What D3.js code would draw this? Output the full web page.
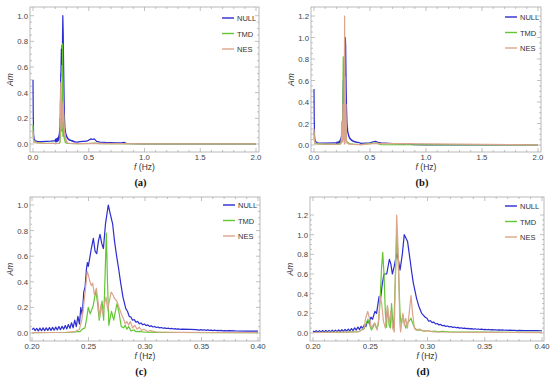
<!DOCTYPE html>
<html>
<head>
<meta charset="utf-8">
<script src="https://cdn.jsdelivr.net/npm/d3@7"></script>
<style>
  body { margin: 0; background: #fff; }
  svg { display: block; font-family: "Liberation Sans", Arial, sans-serif; }
</style>
</head>
<body>
<svg id="chart" width="550" height="386"></svg>
<script>
// series names
const seriesNames = ["NULL", "TMD", "NES"];

// ---- case 1 : panels (a) and (c) ----
// zoom range 0.20 - 0.40 Hz, [f, Am]
const null1Zoom = [[.2000,.026],[.2014,.038],[.2028,.018],[.2042,.036],[.2056,.016],[.2070,.038],[.2084,.018],[.2098,.040],[.2112,.018],[.2126,.040],[.2140,.020],[.2154,.042],[.2168,.020],[.2182,.044],[.2196,.022],[.2210,.046],[.2224,.024],[.2238,.050],[.2252,.026],[.2266,.052],[.2280,.030],[.2294,.058],[.2308,.032],[.2322,.066],[.2336,.036],[.2350,.080],[.2364,.040],[.2378,.100],[.2392,.050],[.2406,.130],[.2420,.070],[.2432,.200],[.2445,.140],[.2458,.320],[.2470,.360],[.2482,.500],[.2490,.550],[.2498,.520],[.2510,.580],[.2525,.660],[.2543,.740],[.2558,.640],[.2573,.620],[.2588,.720],[.2602,.770],[.2617,.700],[.2632,.660],[.2650,.850],[.2675,1.00],[.2695,.920],[.2714,.850],[.2730,.720],[.2749,.600],[.2767,.500],[.2785,.390],[.2805,.280],[.2830,.190],[.2845,.170],[.2860,.130],[.2875,.125],[.2890,.100],[.2905,.105],[.2920,.085],[.2935,.090],[.2950,.072],[.2965,.078],[.2980,.064],[.2995,.070],[.3010,.058],[.3025,.063],[.3040,.052],[.3055,.056],[.3070,.047],[.3085,.051],[.3100,.043],[.3115,.047],[.3130,.040],[.3145,.043],[.3160,.037],[.3175,.040],[.3190,.035],[.3205,.038],[.3220,.033],[.3235,.036],[.3250,.031],[.3265,.034],[.3280,.030],[.3295,.032],[.3310,.029],[.3330,.030],[.3400,.028],[.3450,.026],[.3480,.023],[.3495,.026],[.3510,.022],[.3525,.025],[.3540,.021],[.3555,.024],[.3570,.020],[.3585,.023],[.3600,.019],[.3615,.022],[.3630,.019],[.3645,.021],[.3660,.018],[.3675,.020],[.3690,.017],[.3705,.019],[.3720,.016],[.3740,.018],[.3800,.016],[.3900,.015],[.4000,.014]];
const tmd1Zoom = [[.200,.003],[.220,.004],[.235,.006],[.240,.010],[.2425,.010],[.2445,.030],[.2469,.040],[.2485,.120],[.2498,.200],[.2515,.150],[.2528,.180],[.2543,.220],[.2564,.330],[.2578,.250],[.2595,.100],[.2620,.250],[.2634,.100],[.2645,.400],[.2658,.780],[.2668,.400],[.2680,.060],[.2703,.170],[.2723,.100],[.2752,.230],[.2768,.170],[.2790,.050],[.2810,.040],[.2825,.060],[.2840,.030],[.2855,.050],[.2878,.015],[.2900,.025],[.2920,.010],[.2950,.012],[.3000,.006],[.3100,.005],[.3300,.004],[.3600,.003],[.4000,.002]];
const nes1Zoom = [[.200,.003],[.230,.006],[.238,.010],[.242,.030],[.244,.100],[.2455,.200],[.247,.320],[.2489,.480],[.2500,.450],[.2513,.400],[.2525,.370],[.2537,.390],[.2552,.300],[.2570,.350],[.2585,.240],[.2598,.120],[.2610,.220],[.2625,.150],[.2640,.220],[.2655,.280],[.2670,.180],[.2700,.320],[.2715,.300],[.2730,.270],[.2750,.250],[.2770,.200],[.2790,.150],[.2810,.110],[.2825,.070],[.2840,.090],[.2855,.060],[.2870,.090],[.2890,.040],[.2910,.060],[.2930,.030],[.2950,.045],[.2970,.020],[.2990,.030],[.3020,.012],[.3050,.018],[.3100,.008],[.3300,.005],[.3600,.004],[.4000,.003]];
// full range 0 - 2 Hz, outside the zoom window
const null1Wide = [[0,.50],[.002,.25],[.005,.08],[.01,.04],[.02,.025],[.04,.02],[.08,.018],[.12,.02],[.16,.022],[.19,.025],[.42,.018],[.45,.02],[.48,.022],[.50,.03],[.52,.04],[.53,.035],[.55,.04],[.57,.02],[.60,.015],[.65,.012],[.70,.01],[.75,.008],[.80,.01],[.82,.012],[.84,.004],[.90,.002],[1.0,.001],[2.0,.001]];
const tmd1Wide = [[0,.15],[.003,.05],[.01,.015],[.05,.008],[.10,.006],[.19,.005],[.42,.003],[.50,.004],[.55,.008],[.60,.003],[1.0,.001],[2.0,.001]];
const nes1Wide = [[0,.10],[.003,.03],[.01,.01],[.10,.005],[.19,.004],[.42,.003],[.55,.005],[1.0,.001],[2.0,.001]];

// ---- case 2 : panels (b) and (d) ----
const null2Zoom = [[.2000,.020],[.2014,.010],[.2028,.024],[.2042,.010],[.2056,.024],[.2070,.011],[.2084,.025],[.2098,.011],[.2112,.026],[.2126,.012],[.2140,.027],[.2154,.012],[.2168,.028],[.2182,.013],[.2196,.029],[.2210,.014],[.2224,.031],[.2238,.015],[.2252,.033],[.2266,.017],[.2280,.036],[.2294,.019],[.2308,.040],[.2322,.022],[.2336,.045],[.2350,.025],[.2364,.052],[.2378,.030],[.2392,.060],[.2406,.036],[.2420,.068],[.2434,.045],[.2448,.085],[.2462,.065],[.2476,.120],[.2490,.100],[.2505,.160],[.2520,.140],[.2541,.220],[.2555,.200],[.2577,.370],[.2590,.350],[.2605,.500],[.2620,.600],[.2644,.600],[.2667,.750],[.2680,.700],[.2693,.600],[.2710,.680],[.2731,.810],[.2745,.750],[.2760,.640],[.2780,.800],[.2797,1.00],[.2826,.930],[.2847,.750],[.2862,.620],[.2876,.510],[.2905,.350],[.2925,.270],[.2949,.200],[.2965,.180],[.2980,.160],[.2995,.150],[.3010,.120],[.3025,.125],[.3040,.105],[.3055,.110],[.3070,.092],[.3085,.097],[.3100,.082],[.3115,.087],[.3130,.074],[.3145,.078],[.3160,.067],[.3175,.071],[.3190,.062],[.3205,.066],[.3220,.057],[.3235,.061],[.3250,.053],[.3265,.057],[.3280,.050],[.3295,.053],[.3310,.047],[.3325,.050],[.3340,.044],[.3355,.047],[.3370,.042],[.3385,.045],[.3400,.040],[.3415,.043],[.3430,.038],[.3445,.041],[.3460,.036],[.3475,.039],[.3490,.035],[.3505,.037],[.3520,.033],[.3535,.036],[.3550,.032],[.3565,.034],[.3580,.031],[.3595,.033],[.3610,.030],[.3625,.032],[.3640,.029],[.3655,.031],[.3670,.028],[.3685,.030],[.3700,.027],[.3720,.029],[.3740,.026],[.3760,.028],[.3780,.025],[.3800,.027],[.3850,.025],[.3900,.024],[.3950,.024],[.4000,.023]];
const tmd2Zoom = [[.200,.005],[.230,.008],[.240,.015],[.2445,.040],[.2465,.100],[.2480,.140],[.2495,.080],[.2510,.030],[.2525,.060],[.2540,.100],[.2555,.050],[.2570,.080],[.2585,.300],[.2598,.650],[.2609,.820],[.2620,.600],[.2632,.200],[.2642,.060],[.2650,.270],[.2665,.080],[.2675,.050],[.2686,.300],[.2697,.100],[.2705,.050],[.2715,.400],[.2731,1.00],[.2745,.700],[.2760,.200],[.2770,.080],[.2785,.180],[.2798,.100],[.2810,.050],[.2825,.100],[.2840,.120],[.2855,.150],[.2870,.100],[.2890,.050],[.2910,.030],[.2940,.030],[.2970,.020],[.3000,.025],[.3030,.015],[.3060,.020],[.3100,.012],[.3130,.018],[.3200,.010],[.3500,.008],[.4000,.006]];
const nes2Zoom = [[.200,.005],[.240,.012],[.2445,.050],[.2460,.150],[.2478,.220],[.2495,.140],[.2510,.050],[.2535,.100],[.2560,.030],[.2575,.150],[.2585,.380],[.2600,.300],[.2615,.120],[.2632,.050],[.2650,.280],[.2665,.100],[.2680,.220],[.2695,.050],[.2710,.010],[.2718,.500],[.2731,1.20],[.2745,.800],[.2758,.100],[.2765,.010],[.2785,.200],[.2797,.080],[.2810,.150],[.2825,.050],[.2840,.200],[.2856,.380],[.2870,.200],[.2885,.050],[.2900,.030],[.2930,.040],[.2960,.020],[.3000,.025],[.3050,.012],[.3100,.010],[.3500,.006],[.4000,.004]];
const null2Wide = [[0,.52],[.002,.25],[.005,.08],[.01,.035],[.03,.02],[.10,.018],[.19,.02],[.42,.015],[.50,.02],[.53,.03],[.55,.035],[.57,.025],[.60,.02],[.70,.012],[.80,.008],[.85,.012],[.87,.005],[.90,.003],[1.0,.002],[2.0,.001]];
const tmd2Wide = [[0,.12],[.003,.04],[.01,.012],[.10,.006],[.19,.006],[.42,.004],[.55,.02],[.60,.004],[2.0,.001]];
const nes2Wide = [[0,.15],[.003,.05],[.01,.01],[.19,.005],[.42,.003],[.55,.015],[2.0,.001]];

// tick labels
const xTicksWide = [0, 0.5, 1.0, 1.5, 2.0];
const xTicksZoom = [0.20, 0.25, 0.30, 0.35, 0.40];
const yTicks1 = [0, 0.2, 0.4, 0.6, 0.8, 1.0];
const yTicks2 = [0, 0.2, 0.4, 0.6, 0.8, 1.0, 1.2];

const colors = { NULL: "#2c2cd0", TMD: "#62c732", NES: "#dba48c" };

const merge = (a, b) => a.concat(b).sort((p, q) => p[0] - q[0]);

const panels = [
  { tag: "(a)", x0: 33, x1: 256, y0: 144, y1: 15.7, frame: [30, 259, 7, 152],
    xd: [0, 2], yd: [0, 1], xt: xTicksWide, yt: yTicks1, xf: ".1f", xminor: 0.1,
    lines: { NULL: merge(null1Wide, null1Zoom), TMD: merge(tmd1Wide, tmd1Zoom), NES: merge(nes1Wide, nes1Zoom) },
    leg: [222, 18] },
  { tag: "(b)", x0: 314, x1: 538, y0: 145, y1: 16, frame: [311, 541, 7, 152],
    xd: [0, 2], yd: [0, 1.2], xt: xTicksWide, yt: yTicks2, xf: ".1f", xminor: 0.1,
    lines: { NULL: merge(null2Wide, null2Zoom), TMD: merge(tmd2Wide, tmd2Zoom), NES: merge(nes2Wide, nes2Zoom) },
    leg: [505, 17] },
  { tag: "(c)", x0: 32, x1: 258, y0: 333, y1: 205, frame: [30, 260, 197, 341],
    xd: [0.2, 0.4], yd: [0, 1], xt: xTicksZoom, yt: yTicks1, xf: ".2f", xminor: 0.01,
    lines: { NULL: null1Zoom, TMD: tmd1Zoom, NES: nes1Zoom },
    leg: [223, 205] },
  { tag: "(d)", x0: 313, x1: 542, y0: 333, y1: 215, frame: [310, 544, 197, 341],
    xd: [0.2, 0.4], yd: [0, 1.2], xt: xTicksZoom, yt: yTicks2, xf: ".2f", xminor: 0.01,
    lines: { NULL: null2Zoom, TMD: tmd2Zoom, NES: nes2Zoom },
    leg: [505, 206] }
];

const svg = d3.select("#chart");
const frameColor = "#a8a8a8";

panels.forEach((p, i) => {
  const g = svg.append("g");
  const [fl, fr, ft, fb] = p.frame;

  // SCALES
  const x = d3.scaleLinear().domain(p.xd).range([p.x0, p.x1]);
  const y = d3.scaleLinear().domain(p.yd).range([p.y0, p.y1]);

  const clipId = "clip" + i;
  g.append("clipPath").attr("id", clipId)
    .append("rect").attr("x", fl).attr("y", ft).attr("width", fr - fl).attr("height", fb - ft);

  // FRAME + TICKS
  g.append("rect").attr("x", fl).attr("y", ft).attr("width", fr - fl).attr("height", fb - ft)
    .attr("fill", "none").attr("stroke", frameColor).attr("stroke-width", 0.8);

  const xMinor = d3.range(p.xd[0], p.xd[1] + 1e-9, p.xminor);
  const yMinor = d3.range(0, p.yd[1] + 1e-9, 0.05);
  const tk = g.append("g").attr("stroke", frameColor).attr("stroke-width", 0.7);
  xMinor.forEach(v => {
    const big = p.xt.some(t => Math.abs(t - v) < 1e-6);
    const len = big ? 4 : 2;
    tk.append("line").attr("x1", x(v)).attr("x2", x(v)).attr("y1", fb).attr("y2", fb - len);
    tk.append("line").attr("x1", x(v)).attr("x2", x(v)).attr("y1", ft).attr("y2", ft + len);
  });
  yMinor.forEach(v => {
    const big = p.yt.some(t => Math.abs(t - v) < 1e-6);
    const len = big ? 4 : 2;
    tk.append("line").attr("y1", y(v)).attr("y2", y(v)).attr("x1", fl).attr("x2", fl + len);
    tk.append("line").attr("y1", y(v)).attr("y2", y(v)).attr("x1", fr).attr("x2", fr - len);
  });

  g.append("g").selectAll("text").data(p.xt).join("text")
    .attr("x", d => x(d)).attr("y", fb + 7.5).attr("text-anchor", "middle")
    .attr("font-size", 7.8).attr("fill", "#444").text(d => d3.format(p.xf)(d));
  g.append("g").selectAll("text").data(p.yt).join("text")
    .attr("x", fl - 2).attr("y", d => y(d) + 3).attr("text-anchor", "end")
    .attr("font-size", 7.8).attr("fill", "#444").text(d => d3.format(".1f")(d));

  // AXIS TITLES
  const xt = g.append("text").attr("x", (fl + fr) / 2).attr("y", fb + 17.5)
    .attr("text-anchor", "middle").attr("font-size", 8.5).attr("fill", "#333");
  xt.append("tspan").attr("font-style", "italic").text("f");
  xt.append("tspan").text(" (Hz)");
  g.append("text").attr("transform", `translate(${fl - 17},${(ft + fb) / 2}) rotate(-90)`)
    .attr("text-anchor", "middle").attr("font-size", 8.5).attr("fill", "#333")
    .attr("font-style", "italic").text("Am");

  // LINES
  const line = d3.line().x(d => x(d[0])).y(d => y(d[1]));
  const lg = g.append("g").attr("clip-path", `url(#${clipId})`);
  seriesNames.forEach(n => {
    lg.append("path").datum(p.lines[n]).attr("d", line)
      .attr("fill", "none").attr("stroke", colors[n]).attr("stroke-width", 1.2)
      .attr("stroke-linejoin", "round");
  });

  // LEGEND
  seriesNames.forEach((n, k) => {
    const ly = p.leg[1] + k * 15.5;
    g.append("line").attr("x1", p.leg[0]).attr("x2", p.leg[0] + 12)
      .attr("y1", ly).attr("y2", ly).attr("stroke", colors[n]).attr("stroke-width", 1.4);
    g.append("text").attr("x", p.leg[0] + 15).attr("y", ly + 3)
      .attr("font-size", 7.5).attr("fill", "#333").text(n);
  });

  // CAPTION
  g.append("text").attr("x", (fl + fr) / 2 - 4).attr("y", fb + 34)
    .attr("text-anchor", "middle").attr("font-family", "'Liberation Serif', serif")
    .attr("font-weight", "bold").attr("font-size", 10.5).attr("fill", "#111").text(p.tag);
});
</script>
</body>
</html>
